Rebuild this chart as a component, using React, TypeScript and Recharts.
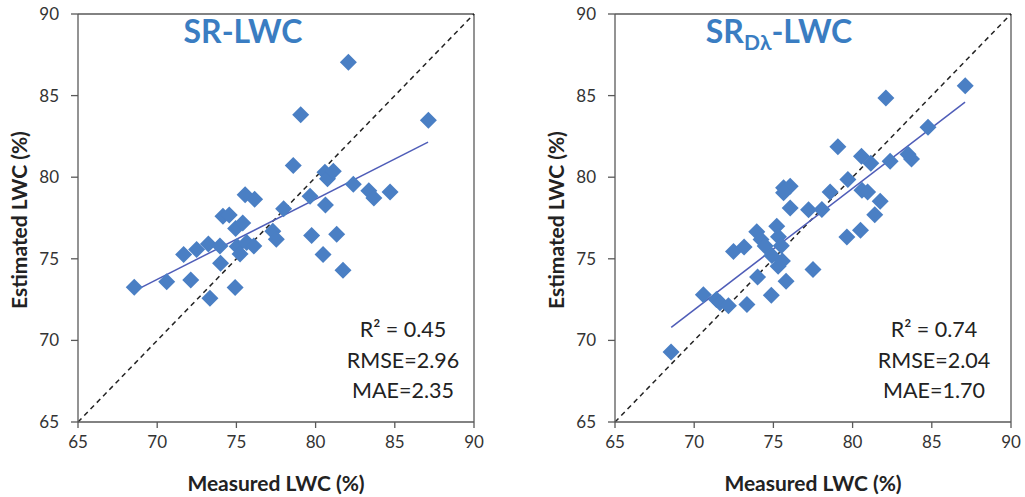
import React from 'react';
import { ScatterChart, Scatter, XAxis, YAxis, ReferenceLine } from 'recharts';

// SR-LWC panel: measured vs estimated
const leftMeasured = [
  68.55, 70.6, 72.12, 71.67, 72.49, 73.23, 73.33, 73.96, 74.0, 74.15,
  74.55, 74.92, 74.95, 75.4, 75.05, 75.23, 75.65, 76.1, 75.55, 76.15,
  77.3, 77.52, 77.98, 78.59, 79.06, 79.65, 79.75, 80.47, 80.62, 80.59,
  80.75, 81.12, 81.33, 81.73, 82.07, 82.38, 83.36, 83.68, 84.7, 87.12,
];
const leftEstimated = [
  73.25, 73.6, 73.7, 75.26, 75.57, 75.9, 72.58, 75.78, 74.73, 77.6,
  77.68, 73.24, 76.85, 77.2, 75.75, 75.3, 76.0, 75.78, 78.93, 78.65,
  76.69, 76.2, 78.06, 80.72, 83.82, 78.84, 76.43, 75.27, 78.3, 80.3,
  79.9, 80.37, 76.5, 74.3, 87.04, 79.57, 79.17, 78.73, 79.09, 83.49,
];
const leftTrendX = [68.6, 87.1];
const leftTrendY = [73.05, 82.15];

// SR_Dλ-LWC panel
const rightMeasured = [
  68.54, 70.58, 71.4, 71.63, 72.16, 72.48, 73.15, 73.33, 73.95, 74.0,
  74.22, 74.48, 74.87, 74.9, 75.21, 75.32, 75.3, 75.57, 75.5, 75.8,
  75.64, 76.06, 75.64, 76.06, 77.22, 77.5, 78.06, 78.58, 79.07, 79.64,
  79.7, 80.5, 80.56, 80.59, 80.95, 81.15, 81.4, 81.74, 82.1, 82.37,
  83.5, 83.72, 84.76, 87.11,
];
const rightEstimated = [
  69.29, 72.8, 72.5, 72.3, 72.12, 75.45, 75.72, 72.2, 76.65, 73.88,
  76.18, 75.78, 72.76, 75.2, 77.0, 76.35, 74.55, 74.86, 75.8, 73.63,
  79.35, 79.45, 79.04, 78.12, 78.0, 74.35, 78.02, 79.1, 81.86, 76.33,
  79.86, 76.75, 81.28, 79.2, 79.1, 80.85, 77.7, 78.52, 84.86, 80.98,
  81.4, 81.12, 83.06, 85.61,
];
const rightTrendX = [68.55, 87.1];
const rightTrendY = [70.8, 84.6];

const ticks = [65, 70, 75, 80, 85, 90];
const leftStats = ['R² = 0.45', 'RMSE=2.96', 'MAE=2.35'];
const rightStats = ['R² = 0.74', 'RMSE=2.04', 'MAE=1.70'];

const FONT = 'Lato, "Open Sans", sans-serif';
const AXIS = '#595959';
const MARK = '#4A7FC4';

const zip = (xs: number[], ys: number[]) => xs.map((x, i) => ({ x, y: ys[i] }));

const Diamond = (props: any) => {
  const { cx, cy } = props;
  if (cx == null || cy == null) return null;
  const r = 8.5;
  return (
    <polygon
      points={`${cx},${cy - r} ${cx + r},${cy} ${cx},${cy + r} ${cx - r},${cy}`}
      fill={MARK}
    />
  );
};

interface PanelProps {
  xs: number[];
  ys: number[];
  tx: number[];
  ty: number[];
  marginLeft: number;
  marginRight: number;
  width: number;
}

const Panel: React.FC<PanelProps> = ({ xs, ys, tx, ty, marginLeft, marginRight, width }) => {
  const tick = { fill: '#333', fontSize: 17, fontFamily: FONT };
  return (
    <ScatterChart
      width={width}
      height={497}
      margin={{ top: 14, right: marginRight, bottom: 15, left: marginLeft }}
    >
      <XAxis
        type="number"
        dataKey="x"
        domain={[65, 90]}
        ticks={ticks}
        allowDataOverflow
        tick={tick}
        tickSize={6}
        tickMargin={8}
        height={60}
        axisLine={{ stroke: AXIS, strokeWidth: 1.3 }}
        tickLine={{ stroke: AXIS, strokeWidth: 1.3 }}
      />
      <YAxis
        type="number"
        dataKey="y"
        domain={[65, 90]}
        ticks={ticks}
        allowDataOverflow
        tick={tick}
        tickSize={7}
        tickMargin={12}
        width={50}
        axisLine={{ stroke: AXIS, strokeWidth: 1.3 }}
        tickLine={{ stroke: AXIS, strokeWidth: 1.3 }}
      />
      <ReferenceLine y={90} stroke={AXIS} strokeWidth={1.3} />
      <ReferenceLine x={90} stroke={AXIS} strokeWidth={1.3} />
      <Scatter data={zip(xs, ys)} shape={Diamond} isAnimationActive={false} />
      <ReferenceLine
        segment={[{ x: 65, y: 65 }, { x: 90, y: 90 }]}
        stroke="#222"
        strokeWidth={1.5}
        strokeDasharray="5 4"
      />
      <ReferenceLine
        segment={[{ x: tx[0], y: ty[0] }, { x: tx[1], y: ty[1] }]}
        stroke="#4F5DB8"
        strokeWidth={1.5}
      />
    </ScatterChart>
  );
};

const abs = (style: React.CSSProperties): React.CSSProperties => ({
  position: 'absolute',
  transform: 'translate(-50%, -50%)',
  whiteSpace: 'nowrap',
  fontFamily: FONT,
  lineHeight: 1,
  ...style,
});

const Stats: React.FC<{ lines: string[]; cx: number }> = ({ lines, cx }) => (
  <>
    {lines.map((t, i) => (
      <div key={t} style={abs({ left: cx, top: 330 + i * 30.5, fontSize: 21.5, color: '#222' })}>
        {t}
      </div>
    ))}
  </>
);

export default function App() {
  return (
    <div style={{ position: 'absolute', left: 0, top: 0, width: 1025, height: 497, background: '#fff' }}>
      <div style={{ position: 'absolute', left: 0, top: 0 }}>
        <Panel xs={leftMeasured} ys={leftEstimated} tx={leftTrendX} ty={leftTrendY} marginLeft={28} marginRight={38} width={512} />
      </div>
      <div style={{ position: 'absolute', left: 512, top: 0 }}>
        <Panel xs={rightMeasured} ys={rightEstimated} tx={rightTrendX} ty={rightTrendY} marginLeft={53} marginRight={14} width={513} />
      </div>

      <div style={abs({ left: 243, top: 31, fontSize: 32, fontWeight: 700, color: '#3A7DC2' })}>SR-LWC</div>
      <div style={abs({ left: 779, top: 31, fontSize: 32, fontWeight: 700, color: '#3A7DC2' })}>
        SR<span style={{ fontSize: 21, position: 'relative', top: 7 }}>Dλ</span>-LWC
      </div>

      <Stats lines={leftStats} cx={403} />
      <Stats lines={rightStats} cx={934} />

      <div style={abs({ left: 276, top: 482, fontSize: 21, fontWeight: 700, color: '#222' })}>Measured LWC (%)</div>
      <div style={abs({ left: 813, top: 482, fontSize: 21, fontWeight: 700, color: '#222' })}>Measured LWC (%)</div>
      <div style={abs({ left: 18, top: 220, fontSize: 21, fontWeight: 700, color: '#222', transform: 'translate(-50%, -50%) rotate(-90deg)' })}>
        Estimated LWC (%)
      </div>
      <div style={abs({ left: 555, top: 220, fontSize: 21, fontWeight: 700, color: '#222', transform: 'translate(-50%, -50%) rotate(-90deg)' })}>
        Estimated LWC (%)
      </div>
    </div>
  );
}
